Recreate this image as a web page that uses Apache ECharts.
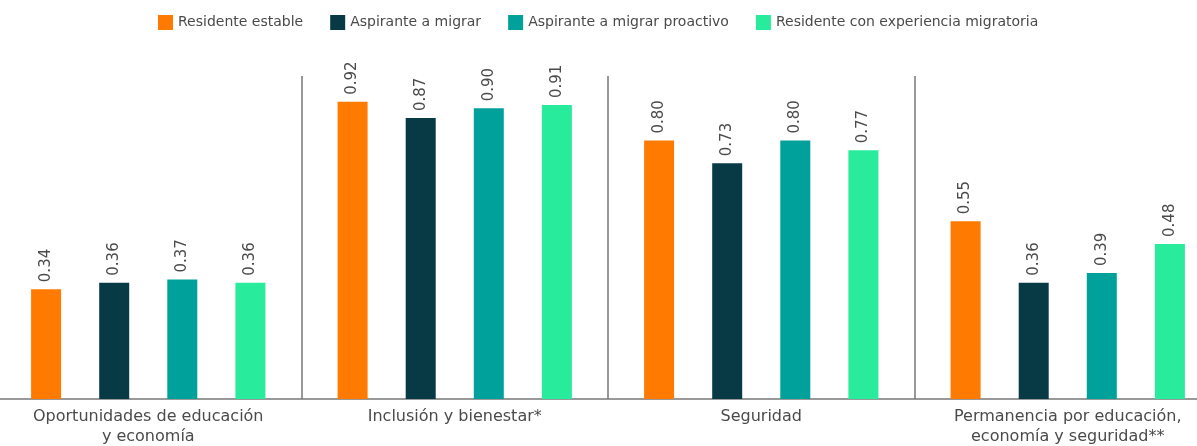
<!DOCTYPE html>
<html>
<head>
<meta charset="utf-8">
<script src="https://cdn.jsdelivr.net/npm/echarts@6/dist/echarts.min.js"></script>
<style>
  html, body { margin: 0; padding: 0; background: #fff; overflow: hidden; }
  #chart { width: 1197px; height: 446px; }
</style>
</head>
<body>
<div id="chart"></div>
<script>
// Índices por dimensión y tipo de residente
const categories = [
  'Oportunidades de educación\ny economía',
  'Inclusión y bienestar*',
  'Seguridad',
  'Permanencia por educación,\neconomía y seguridad**'
];
const seriesNames = [
  'Residente estable',
  'Aspirante a migrar',
  'Aspirante a migrar proactivo',
  'Residente con experiencia migratoria'
];
const residenteEstable = [0.34, 0.92, 0.80, 0.55];
const aspiranteMigrar = [0.36, 0.87, 0.73, 0.36];
const aspiranteProactivo = [0.37, 0.90, 0.80, 0.39];
const residenteExperiencia = [0.36, 0.91, 0.77, 0.48];
const palette = ['#FF7A00', '#083A45', '#00A19A', '#28EB9B'];

const FONT = 'DejaVu Sans';
const values = [residenteEstable, aspiranteMigrar, aspiranteProactivo, residenteExperiencia];

const series = values.map((data, i) => ({
  name: seriesNames[i],
  type: 'bar',
  data: data,
  barWidth: 30,
  barGap: '127%',
  itemStyle: { color: palette[i] },
  label: {
    show: true,
    position: 'top',
    rotate: 90,
    align: 'left',
    verticalAlign: 'middle',
    distance: 7,
    fontFamily: FONT,
    fontSize: 15,
    color: '#4a4a4a',
    formatter: p => p.value.toFixed(2)
  }
}));

const chart = echarts.init(document.getElementById('chart'));
chart.setOption({
  animation: false,
  color: palette,
  legend: {
    top: 10,
    left: 153,
    itemWidth: 15,
    itemHeight: 15,
    itemGap: 27,
    icon: 'rect',
    textStyle: { fontFamily: FONT, fontSize: 14, color: '#4a4a4a' },
    data: seriesNames
  },
  grid: {
    left: -5, right: -24, top: 76, bottom: 47,
    containLabel: false,
    outerBoundsMode: 'none'
  },
  xAxis: {
    type: 'category',
    data: categories,
    axisLine: { show: true, lineStyle: { color: '#777', width: 1.5 } },
    axisTick: { show: false },
    splitLine: { show: true, lineStyle: { color: '#777', width: 1.5 } },
    axisLabel: {
      fontFamily: FONT,
      fontSize: 16,
      color: '#4a4a4a',
      lineHeight: 20,
      margin: 8,
      interval: 0
    }
  },
  yAxis: {
    type: 'value',
    min: 0,
    max: 1,
    show: false
  },
  series: series
});
</script>
</body>
</html>
